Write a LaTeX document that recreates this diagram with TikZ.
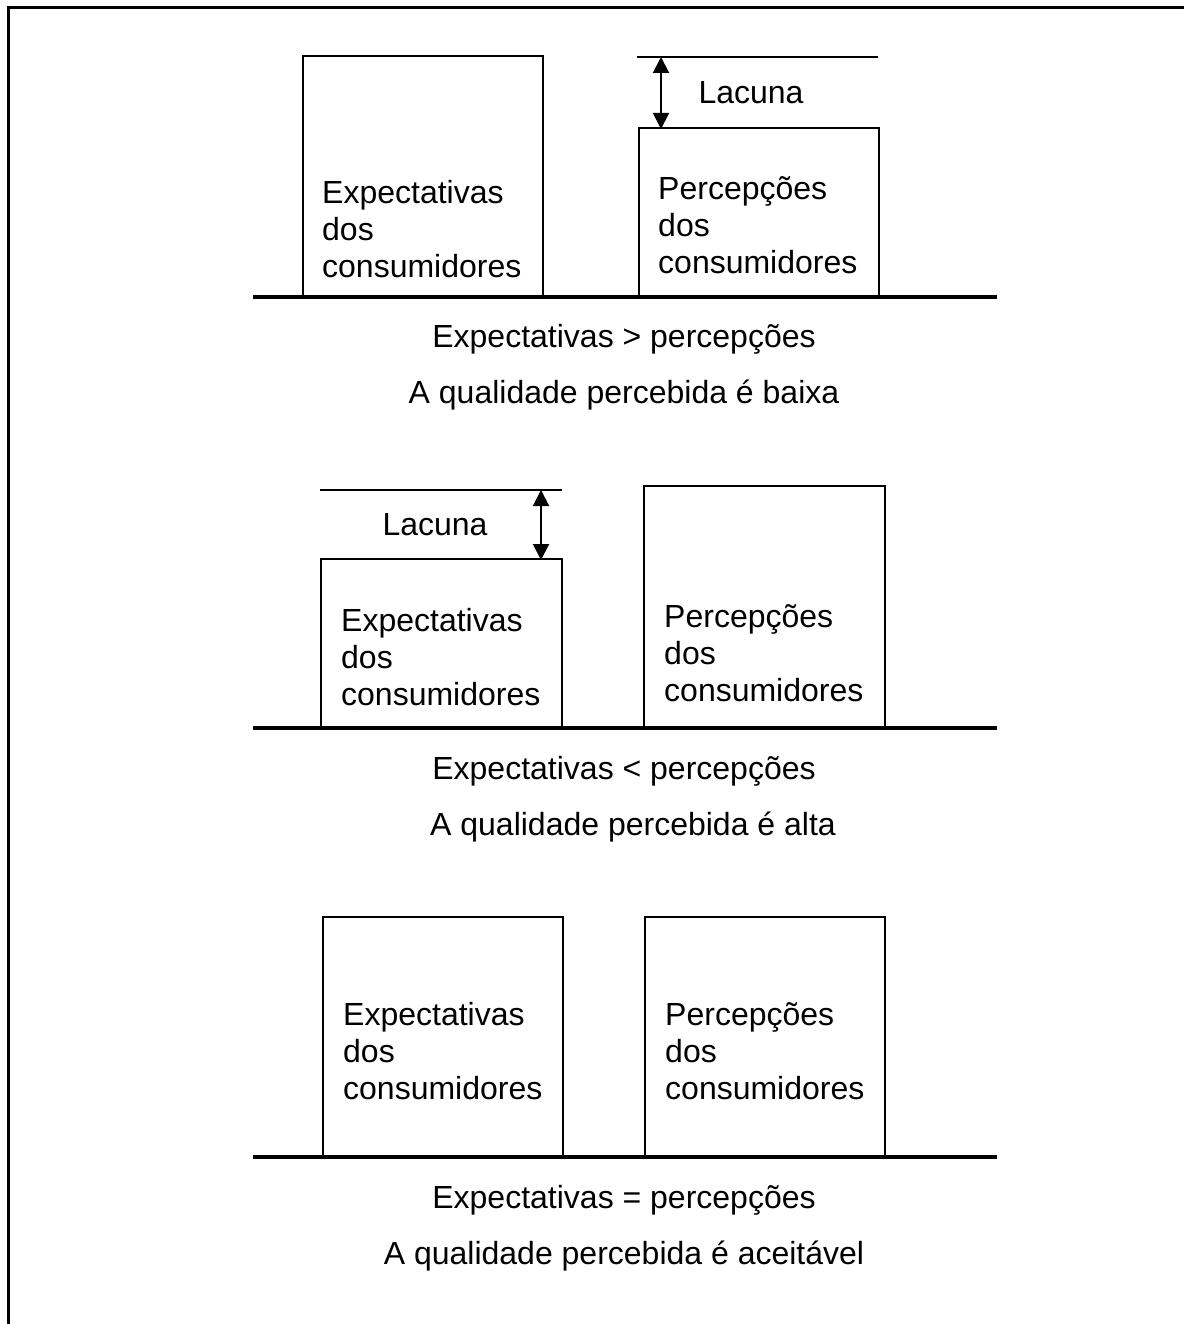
\documentclass[tikz,border=0pt]{standalone}
\usepackage{fontspec}
\setmainfont{Liberation Sans}
\usetikzlibrary{arrows.meta}
\begin{document}
\begin{tikzpicture}[x=1pt,y=-1pt,
  box/.style={draw, line width=2pt, inner sep=0pt, anchor=south west},
  ground/.style={line width=3.5pt},
  txt/.style={font=\fontsize{32}{37}\selectfont, inner sep=0pt},
  lbl/.style={txt, align=left, anchor=west},
  gap/.style={line width=2pt, {Triangle[length=16pt,width=16pt]}-{Triangle[length=16pt,width=16pt]}},
  level/.style={line width=2pt}]
\useasboundingbox (0,0) rectangle (1184,1324);
% frame
\draw[line width=3pt] (8,1324) -- (8,8) -- (1184,8);

% ---------- expectations exceed perceptions ----------
\node[box, minimum width=240pt, minimum height=240pt] (e1) at (302,297) {};
\node[box, minimum width=240pt, minimum height=168pt] (p1) at (638,297) {};
\node[lbl] (e1t) at (322,229) {Expectativas\\dos\\consumidores};
\node[lbl] (p1t) at (658,225) {Percepções\\dos\\consumidores};
\coordinate (l1a) at (637,57);
\coordinate (l1b) at (878,57);
\draw[level] (l1a) -- (l1b);
\coordinate (a1t) at (661,57);
\coordinate (a1b) at (661,129);
\draw[gap] (a1t) -- (a1b);
\node[txt] (g1) at (751,93) {Lacuna};
\coordinate (b1a) at (253,297);
\coordinate (b1b) at (997,297);
\draw[ground] (b1a) -- (b1b);
\node[txt] (c1a) at (624,339) {Expectativas > percepções};
\node[txt] (c1b) at (624,395) {A qualidade percebida é baixa};

% ---------- perceptions exceed expectations ----------
\node[box, minimum width=241pt, minimum height=168pt] (e2) at (320,728) {};
\node[box, minimum width=241pt, minimum height=241pt] (p2) at (643,728) {};
\node[lbl] (e2t) at (341,657) {Expectativas\\dos\\consumidores};
\node[lbl] (p2t) at (664,653) {Percepções\\dos\\consumidores};
\coordinate (l2a) at (320,490);
\coordinate (l2b) at (562,490);
\draw[level] (l2a) -- (l2b);
\coordinate (a2t) at (541,490);
\coordinate (a2b) at (541,560);
\draw[gap] (a2t) -- (a2b);
\node[txt] (g2) at (435,525) {Lacuna};
\coordinate (b2a) at (253,728);
\coordinate (b2b) at (997,728);
\draw[ground] (b2a) -- (b2b);
\node[txt] (c2a) at (624,771) {Expectativas < percepções};
\node[txt] (c2b) at (633,827) {A qualidade percebida é alta};

% ---------- expectations equal perceptions ----------
\node[box, minimum width=240pt, minimum height=239pt] (e3) at (322,1157) {};
\node[box, minimum width=240pt, minimum height=239pt] (p3) at (644,1157) {};
\node[lbl] (e3t) at (343,1051) {Expectativas\\dos\\consumidores};
\node[lbl] (p3t) at (665,1051) {Percepções\\dos\\consumidores};
\coordinate (b3a) at (253,1157);
\coordinate (b3b) at (997,1157);
\draw[ground] (b3a) -- (b3b);
\node[txt] (c3a) at (624,1200) {Expectativas = percepções};
\node[txt] (c3b) at (624,1256) {A qualidade percebida é aceitável};
\end{tikzpicture}
\end{document}
